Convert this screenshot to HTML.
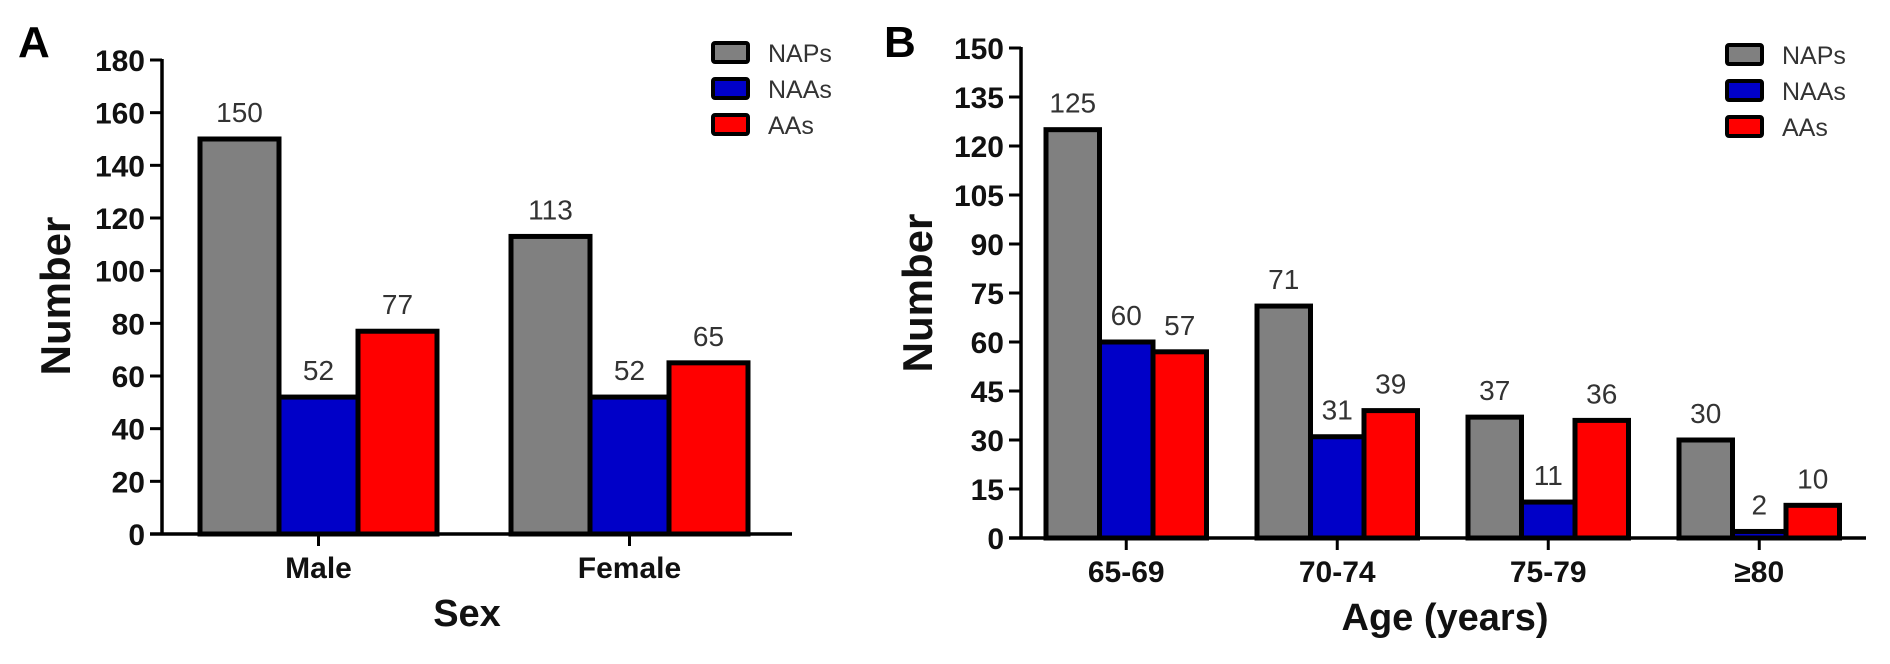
<!DOCTYPE html>
<html><head><meta charset="utf-8"><style>
html,body{margin:0;padding:0;background:#fff;}
svg{display:block;font-family:"Liberation Sans",Arial,sans-serif;}
</style></head><body>
<svg id="fig" width="1890" height="664" viewBox="0 0 1890 664"></svg>
<script>
const seriesNames = ["NAPs","NAAs","AAs"];
const seriesColors = ["#808080","#0000c8","#ff0000"];
const catsA = ["Male","Female"];
const napsA = [150,113];
const naasA = [52,52];
const aasA = [77,65];
const ticksA = [0,20,40,60,80,100,120,140,160,180];
const catsB = ["65-69","70-74","75-79","≥80"];
const napsB = [125,71,37,30];
const naasB = [60,31,11,2];
const aasB = [57,39,36,10];
const ticksB = [0,15,30,45,60,75,90,105,120,135,150];

const NS="http://www.w3.org/2000/svg";
const svg=document.getElementById('fig');
function mk(tag,attrs,parent){const e=document.createElementNS(NS,tag);for(const k in attrs)e.setAttribute(k,attrs[k]);(parent||svg).appendChild(e);return e;}

function panel(o){
  const g=mk('g',{});
  
  
  const y=v=>o.y0-(v/o.ymax)*(o.y0-o.ytop);
  const series=[o.s1,o.s2,o.s3];
  o.cats.forEach((c,i)=>{
    const gx=o.gStart+i*o.gStep;
    series.forEach((s,j)=>{
      const x=gx+j*o.bw, v=s[i];
      const r=mk('rect',{x:x,y:y(v),width:o.bw,height:o.y0-y(v),fill:seriesColors[j],stroke:'#000','stroke-width':5},g);
      
      
      const t=mk('text',{x:x+o.bw/2,y:y(v)-17,'text-anchor':'middle','font-size':o.vfs,fill:'#333'},g);
      t.textContent=v;
      
      
    });
    const cx=gx+1.5*o.bw;
    mk('line',{x1:cx,y1:o.y0,x2:cx,y2:o.y0+12,stroke:'#000','stroke-width':3},g);
    const ct=mk('text',{x:cx,y:o.catY,'text-anchor':'middle','font-size':30,'font-weight':'bold',fill:'#111'},g);
    ct.textContent=c;
    
    
  });
  const ya=mk('line',{x1:o.ax,y1:o.ytop-1,x2:o.ax,y2:o.y0+1.5,stroke:'#000','stroke-width':3.5},g);
  
  
  const xa=mk('line',{x1:o.ax-12,y1:o.y0,x2:o.axEnd,y2:o.y0,stroke:'#000','stroke-width':3.5},g);
  
  
  o.ticks.forEach(t=>{
    mk('line',{x1:o.ax-12,y1:y(t),x2:o.ax,y2:y(t),stroke:'#000','stroke-width':3},g);
    const tl=mk('text',{x:o.ax-17,y:y(t)+11,'text-anchor':'end','font-size':30,'font-weight':'bold',fill:'#111'},g);
    tl.textContent=t;
    
    
  });
  const pl=mk('text',{x:o.px,y:o.py,'font-size':44,'font-weight':'bold',fill:'#000'},g);
  pl.textContent=o.letter;
  
  
  const yt=mk('text',{x:0,y:0,transform:`translate(${o.ytx},${o.yty}) rotate(-90)`,'text-anchor':'middle','font-size':42,'font-weight':'bold',fill:'#111'},g);
  yt.textContent='Number';
  
  
  const xt=mk('text',{x:o.xtx,y:o.xty,'text-anchor':'middle','font-size':38,'font-weight':'bold',fill:'#111'},g);
  xt.textContent=o.xtitle;
  
  
  seriesNames.forEach((n,j)=>{
    const ly=o.legY+j*36;
    const sw=mk('rect',{x:o.legX,y:ly,width:35,height:19,fill:seriesColors[j],stroke:'#000','stroke-width':4,rx:2},g);
    
    
    const lt=mk('text',{x:o.legX+55,y:ly+19,'font-size':25,fill:'#333'},g);
    lt.textContent=n;
    
    
  });
}
panel({name:'panel-a',letter:'A',cats:catsA,s1:napsA,s2:naasA,s3:aasA,ticks:ticksA,ymax:180,
  y0:534,ytop:60,ax:162,axEnd:792,gStart:200,gStep:311,bw:79,vfs:28,catY:578,
  px:18,py:57,ytx:70,yty:296,xtx:467,xty:626,xtitle:'Sex',legX:713,legY:43});
panel({name:'panel-b',letter:'B',cats:catsB,s1:napsB,s2:naasB,s3:aasB,ticks:ticksB,ymax:150,
  y0:538,ytop:48,ax:1021,axEnd:1866,gStart:1046,gStep:211,bw:53.5,vfs:28,catY:582,
  px:884,py:57,ytx:932,yty:293,xtx:1445,xty:630,xtitle:'Age (years)',legX:1727,legY:45});
</script>
</body></html>
